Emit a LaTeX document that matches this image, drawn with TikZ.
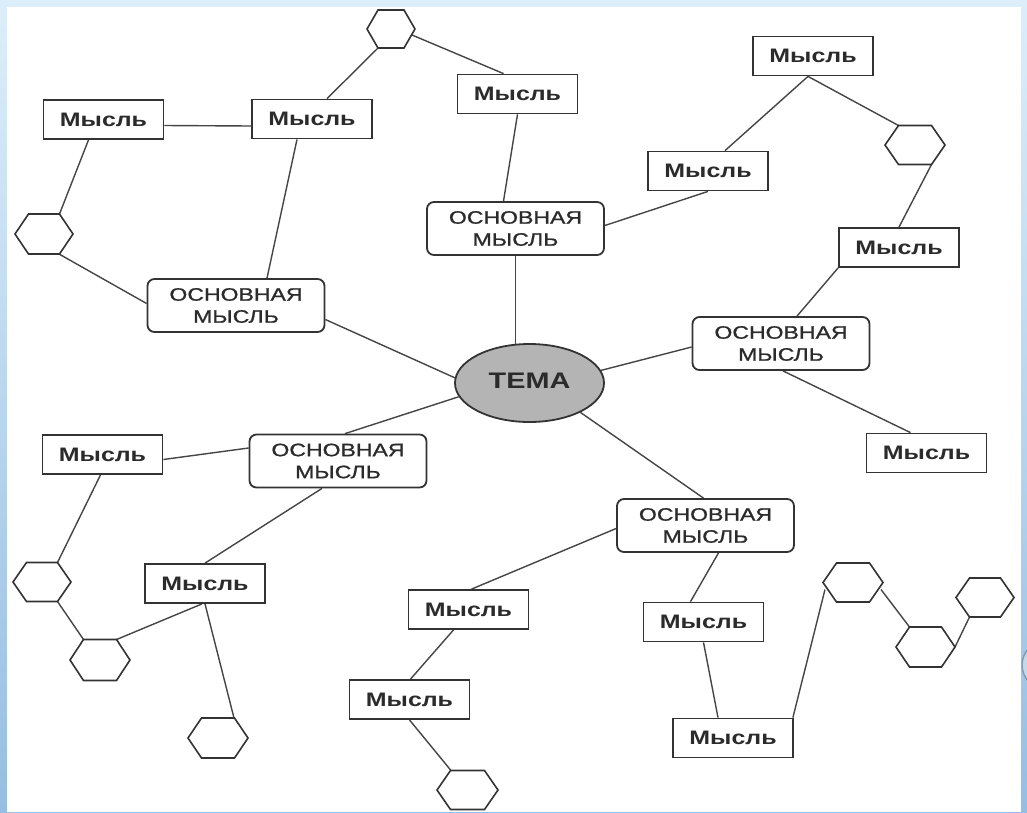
\documentclass[tikz,border=0pt]{standalone}
\usepackage{fontspec}
\newfontfamily\wfont[FakeStretch=1.28]{Liberation Sans}
\newfontfamily\mfont[FakeStretch=1.28,FakeBold=1]{Liberation Sans}
\usetikzlibrary{calc,shapes.geometric,backgrounds}
\definecolor{bgtop}{HTML}{DCEEFA}
\definecolor{bgbot}{HTML}{96BEE2}
\definecolor{boxc}{HTML}{333333}
\definecolor{linec}{HTML}{454545}
\definecolor{txt}{HTML}{2B2B2B}
\definecolor{ellfill}{HTML}{B4B4B4}
\definecolor{ringc}{HTML}{7F9CB8}
\definecolor{ringfill}{HTML}{C4D8EA}
\tikzset{
 thought/.style={draw=boxc, line width=1.8pt, fill=white, minimum width=120, minimum height=39, inner sep=0,
   font=\wfont\bfseries\fontsize{19.5}{22}\selectfont, text=txt},
 mainbox/.style={draw=boxc, line width=1.8pt, rounded corners=7pt, fill=white, minimum width=177, minimum height=53,
   inner sep=0, align=center, font=\mfont\fontsize{18}{22}\selectfont, text=txt},
 topic/.style={ellipse, draw=boxc, line width=1.8pt, fill=ellfill, minimum width=149, minimum height=78, inner sep=0,
   font=\wfont\bfseries\fontsize{22.5}{26}\selectfont, text=txt},
 hexbox/.style={minimum width=59, minimum height=39, inner sep=0, outer sep=0},
 link/.style={draw=linec, line width=1.4pt},
 hexline/.style={draw=boxc, line width=1.6pt, fill=white},
}
\newcommand\drawhex[2]{%
 \draw[hexline] (#1.west) -- ($(#1.north west)+(#2,0)$) -- ($(#1.north east)+(-#2,0)$) -- (#1.east)
   -- ($(#1.south east)+(-#2,0)$) -- ($(#1.south west)+(#2,0)$) -- cycle;}
\begin{document}
\begin{tikzpicture}[x=1pt,y=-1pt]
\useasboundingbox (0,0) rectangle (1027,812);
% nodes
\node[thought] (m1) at (103.5,119.5) {Мысль};
\node[thought] (m2) at (312,119) {Мысль};
\node[thought] (m3) at (517.5,94) {Мысль};
\node[thought] (m4) at (813,56) {Мысль};
\node[thought] (m5) at (708,171) {Мысль};
\node[thought] (m6) at (899,247.5) {Мысль};
\node[thought] (m7) at (926.5,453) {Мысль};
\node[thought] (m8) at (102.5,454.5) {Мысль};
\node[thought] (m9) at (205,583.5) {Мысль};
\node[thought] (m10) at (468.5,609.5) {Мысль};
\node[thought] (m11) at (409.5,699.5) {Мысль};
\node[thought] (m12) at (703.5,622) {Мысль};
\node[thought] (m13) at (733,738) {Мысль};
\node[mainbox] (o1) at (236,305.5) {ОСНОВНАЯ\\МЫСЛЬ};
\node[mainbox] (o2) at (515.5,228.5) {ОСНОВНАЯ\\МЫСЛЬ};
\node[mainbox] (o3) at (781,343.5) {ОСНОВНАЯ\\МЫСЛЬ};
\node[mainbox] (o4) at (338,461) {ОСНОВНАЯ\\МЫСЛЬ};
\node[mainbox] (o5) at (705.5,525.5) {ОСНОВНАЯ\\МЫСЛЬ};
\node[topic] (T) at (529.5,383) {\raisebox{5pt}{ТЕМА}};
\node[hexbox, minimum width=48, minimum height=38] (hT) at (391,29) {};
\node[hexbox, minimum width=58, minimum height=40] (hL) at (44,234) {};
\node[hexbox, minimum width=60] (hR) at (915,145) {};
\node[hexbox, minimum width=58] (hA) at (42,582) {};
\node[hexbox, minimum width=60, minimum height=41] (hB) at (100,660) {};
\node[hexbox, minimum width=60, minimum height=40] (hC) at (218,738) {};
\node[hexbox, minimum width=61] (hD) at (467.5,790) {};
\node[hexbox, minimum width=60] (hE) at (853,582.5) {};
\node[hexbox, minimum width=59, minimum height=40] (hF) at (925.5,647) {};
\node[hexbox, minimum width=58] (hG) at (985,597.5) {};
\drawhex{hT}{11}
\drawhex{hL}{13.5}
\drawhex{hR}{13.5}
\drawhex{hA}{13.5}
\drawhex{hB}{13.5}
\drawhex{hC}{13.5}
\drawhex{hD}{13.5}
\drawhex{hE}{13.5}
\drawhex{hF}{13.5}
\drawhex{hG}{13.5}
\begin{pgfonlayer}{background}
 \shade[top color=bgtop, bottom color=bgbot] (0,0) rectangle (1027,812);
 \fill[white] (7,7) rectangle (1021,812);
 \begin{scope}
  \clip (1021,620) rectangle (1027,710);
  \draw[ringc, line width=1.5pt, fill=ringfill] (1046,665) circle (24);
 \end{scope}
 \draw[link] ($(m1.east)+(0,6)$) -- ($(m2.west)+(0,7)$);
 \draw[link] ($(m1.south)+(-15,0)$) -- ($(hL.north east)+(-13.5,0)$);
 \draw[link] ($(hL.south east)+(-14,0)$) -- ($(o1.west)+(0,-2)$);
 \draw[link] ($(m2.south)+(-15,0)$) -- ($(o1.north)+(31,0)$);
 \draw[link] ($(o1.east)+(0,14)$) -- (T.176);
 \draw[link] ($(hT.south west)+(11,0)$) -- ($(m2.north)+(15,0)$);
 \draw[link] ($(hT.east)+(-3,6)$) -- ($(m3.north)+(-14,0)$);
 \draw[link] (m3.south) -- ($(o2.north)+(-12,0)$);
 \draw[link] (o2.south) -- (o2.south |- T.center);
 \draw[link] ($(o2.east)+(0,-3)$) -- (m5.south);
 \draw[link] ($(m5.north)+(17,0)$) -- ($(m4.south)+(-5,0)$);
 \draw[link] ($(m4.south)+(-5,0)$) -- ($(hR.north west)+(13.5,0)$);
 \draw[link] ($(hR.south east)+(-13.5,0)$) -- (m6.north);
 \draw[link] (m6.south west) -- ($(o3.north)+(16,0)$);
 \draw[link] ($(o3.west)+(0,3.5)$) -- (T.10);
 \draw[link] ($(o3.south)+(2,0)$) -- ($(m7.north)+(-16,0)$);
 \draw[link] (T.191) -- ($(o4.north)+(7,0)$);
 \draw[link] ($(m8.east)+(0,5)$) -- ($(o4.west)+(0,-13)$);
 \draw[link] ($(m8.south)+(-2,0)$) -- ($(hA.north east)+(-13.5,0)$);
 \draw[link] ($(hA.south east)+(-13.5,0)$) -- ($(hB.north west)+(13.5,0)$);
 \draw[link] ($(hB.north east)+(-13.5,0)$) -- ($(m9.south)+(-3,0)$);
 \draw[link] ($(o4.south)+(-16,0)$) -- (m9.north);
 \draw[link] (m9.south) -- ($(hC.north east)+(-14,0)$);
 \draw[link] ($(m10.north)+(3,0)$) -- ($(o5.west)+(0,3)$);
 \draw[link] ($(m10.south)+(-15,0)$) -- ($(m11.north)+(1,0)$);
 \draw[link] (m11.south) -- ($(hD.north west)+(14,0)$);
 \draw[link] (T.-30) -- ($(o5.north)+(-2,0)$);
 \draw[link] ($(o5.south)+(13,0)$) -- ($(m12.north)+(-13,0)$);
 \draw[link] (m12.south) -- ($(m13.north)+(-15,0)$);
 \draw[link] ($(m13.north east)+(-1,0)$) -- ($(hE.west)+(2,7)$);
 \draw[link] ($(hE.east)+(-2,7)$) -- ($(hF.north west)+(13.5,0)$);
 \draw[link] (hF.east) -- ($(hG.south west)+(13.5,0)$);
\end{pgfonlayer}
\end{tikzpicture}
\end{document}
